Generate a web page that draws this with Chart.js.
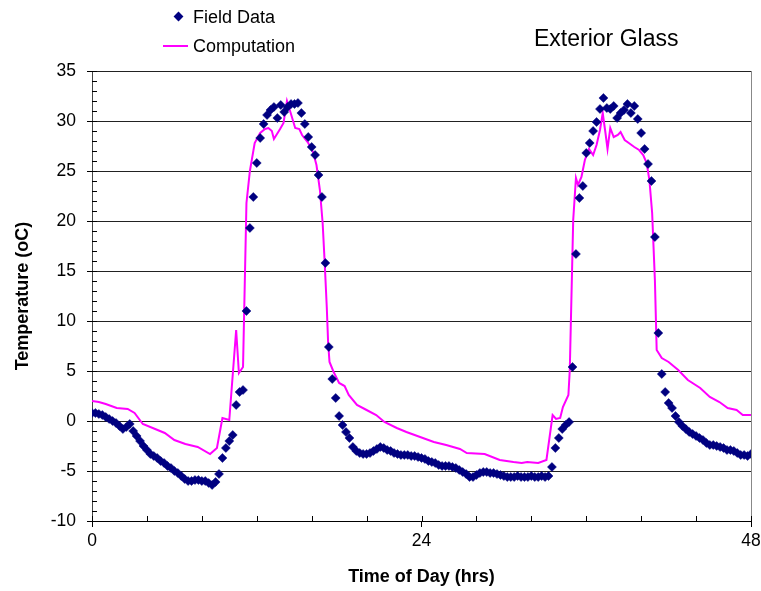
<!DOCTYPE html>
<html>
<head>
<meta charset="utf-8">
<script src="https://cdn.jsdelivr.net/npm/chart.js@4"></script>
<style>
  body { margin: 0; background: #fff; font-family: "Liberation Sans", Arial, sans-serif; }
  #wrap { position: relative; width: 761px; height: 591px; }
  .lbl { position: absolute; color: #000; white-space: nowrap; line-height: 1; }
  #legend div { position: absolute; }
</style>
</head>
<body>
<div id="wrap">
  <canvas id="my-chart" width="761" height="591"></canvas>
  <div id="legend">
    <div style="left:175px;top:13px;width:7px;height:7px;background:#000080;transform:rotate(45deg);"></div>
    <div class="lbl" style="left:193px;top:8px;font-size:18px;">Field Data</div>
    <div style="left:163px;top:45px;width:25px;height:2px;background:#ff00ff;"></div>
    <div class="lbl" style="left:193px;top:37px;font-size:18px;">Computation</div>
  </div>
  <div class="lbl" style="left:534px;top:27px;font-size:23px;">Exterior Glass</div>
</div>
<script>
// field data is logged every 15 minutes, starting at hour 0
const fieldStepHrs = 0.25;
const fieldTemp = [
  0.8, 0.8, 0.7, 0.6, 0.4, 0.2, 0.0, -0.2,
  -0.5, -0.8, -0.6, -0.3, -1.0, -1.5, -2.0, -2.5,
  -2.9, -3.3, -3.5, -3.7, -4.0, -4.2, -4.5, -4.7,
  -5.0, -5.2, -5.5, -5.8, -6.0, -6.0, -5.9, -5.9,
  -6.0, -6.0, -6.2, -6.4, -6.1, -5.3, -3.7, -2.7,
  -2.0, -1.4, 1.6, 2.9, 3.1, 11.0, 19.3, 22.4,
  25.8, 28.3, 29.7, 30.6, 31.1, 31.4, 30.3, 31.6,
  30.9, 31.4, 31.7, 31.7, 31.8, 30.8, 29.7, 28.4,
  27.4, 26.6, 24.6, 22.4, 15.8, 7.4, 4.2, 2.3,
  0.5, -0.4, -1.1, -1.7, -2.6, -3.0, -3.2, -3.3,
  -3.3, -3.2, -3.0, -2.8, -2.6, -2.7, -2.9, -3.0,
  -3.2, -3.3, -3.4, -3.4, -3.4, -3.5, -3.5, -3.6,
  -3.7, -3.8, -4.0, -4.1, -4.2, -4.4, -4.5, -4.5,
  -4.5, -4.6, -4.7, -4.9, -5.1, -5.3, -5.6, -5.6,
  -5.4, -5.2, -5.1, -5.1, -5.2, -5.2, -5.3, -5.4,
  -5.5, -5.6, -5.6, -5.6, -5.5, -5.6, -5.6, -5.6,
  -5.5, -5.6, -5.6, -5.5, -5.6, -5.5, -4.6, -2.7,
  -1.7, -0.8, -0.4, -0.1, 5.4, 16.7, 22.3, 23.5,
  26.8, 27.8, 29.0, 29.9, 31.2, 32.3, 31.3, 31.2,
  31.5, 30.3, 30.8, 31.1, 31.7, 30.8, 31.5, 30.2,
  28.8, 27.2, 25.7, 24.0, 18.4, 8.8, 4.7, 2.9,
  1.8, 1.3, 0.5, -0.1, -0.5, -0.8, -1.1, -1.3,
  -1.5, -1.7, -1.9, -2.2, -2.4, -2.4, -2.5, -2.6,
  -2.7, -2.9, -2.9, -3.0, -3.2, -3.4, -3.4, -3.5,
  -3.3
];

const compTime = [
  0, 0.5, 1.0, 1.8, 2.6, 3.1, 3.7, 4.6, 5.3, 6.0, 6.8, 7.7, 8.6, 9.1, 9.5, 10.0,
  10.5, 10.7, 11.0, 11.25, 11.5, 11.85, 12.25, 12.6, 12.85, 13.1, 13.25, 13.7, 13.95, 14.2, 14.45, 14.8,
  15.1, 15.3, 15.75, 16.1, 16.35, 16.6, 16.8, 16.95, 17.1, 17.2, 17.3, 17.6, 18.0, 18.4, 18.7, 19.3,
  20.0, 20.7, 21.3, 22.2, 22.9, 23.9, 24.9, 25.8, 26.8, 27.3, 28.6, 29.7, 30.7, 31.3, 31.7, 32.5,
  33.1, 33.55, 33.8, 34.1, 34.3, 34.7, 34.8, 34.95, 35.05, 35.25, 35.4, 35.65, 35.9, 36.2, 36.5, 36.75,
  37.0, 37.2, 37.4, 37.55, 37.75, 38.0, 38.3, 38.5, 38.8, 39.1, 39.5, 39.85, 40.15, 40.4, 40.6, 40.8,
  41.0, 41.13, 41.5, 42.0, 42.7, 43.4, 44.3, 45.0, 45.7, 46.3, 46.95, 47.4, 48.0
];
const compTemp = [
  2.0, 1.9, 1.7, 1.3, 1.2, 0.8, -0.3, -0.8, -1.2, -1.9, -2.3, -2.6, -3.3, -2.7, 0.3, 0.1,
  9.1, 4.8, 5.4, 21.8, 25.0, 27.8, 28.8, 29.2, 29.3, 29.0, 28.2, 29.2, 29.8, 32.0, 30.9, 29.3,
  29.2, 28.6, 27.8, 26.9, 25.6, 23.1, 19.8, 15.8, 11.4, 7.8, 5.9, 4.9, 3.8, 3.5, 2.6, 1.6,
  1.1, 0.6, -0.1, -0.7, -1.1, -1.6, -2.1, -2.4, -2.8, -3.2, -3.3, -3.9, -4.1, -4.2, -4.1, -4.2,
  -3.9, 0.6, 0.2, 0.3, 1.4, 2.6, 5.1, 14.1, 20.1, 24.3, 23.6, 24.4, 26.1, 27.2, 26.6, 27.6,
  29.1, 30.8, 28.8, 27.2, 29.3, 28.4, 28.6, 28.9, 28.1, 27.8, 27.4, 27.1, 26.6, 25.8, 24.1, 20.8,
  14.1, 7.1, 6.3, 5.9, 5.1, 4.1, 3.3, 2.4, 1.9, 1.3, 1.1, 0.6, 0.6
];

const xMajorTicks = [0, 24, 48];
const xMinorStep = 4;
const yMin = -10, yMax = 35, yStep = 5, yMinorStep = 1;

const fontFamily = '"Liberation Sans", Arial, sans-serif';
Chart.defaults.color = '#000';
Chart.defaults.font.family = fontFamily;

// small tick marks pointing into the plot, like the original
const innerTicks = {
  id: 'innerTicks',
  beforeDatasetsDraw(chart) {
    const { ctx, chartArea: a, scales: { x, y } } = chart;
    ctx.save();
    ctx.strokeStyle = '#000';
    ctx.lineWidth = 1;
    ctx.beginPath();
    for (let v = x.min; v <= x.max; v += xMinorStep) {
      const px = Math.round(x.getPixelForValue(v)) + 0.5;
      ctx.moveTo(px, a.bottom);
      ctx.lineTo(px, a.bottom - 5);
    }
    for (let v = y.min; v <= y.max; v += yMinorStep) {
      const py = Math.round(y.getPixelForValue(v)) + 0.5;
      ctx.moveTo(a.left, py);
      ctx.lineTo(a.left + 5, py);
    }
    ctx.stroke();
    ctx.restore();
  }
};

const ctx = document.querySelector('#my-chart').getContext('2d');
const chart = new Chart(ctx, {
  type: 'scatter',
  data: {
    datasets: [
      {
        label: 'Field Data',
        data: fieldTemp.map((t, i) => ({ x: i * fieldStepHrs, y: t })),
        pointStyle: 'rectRot',
        pointRadius: 4.5,
        backgroundColor: '#000080',
        borderColor: '#000080',
        borderWidth: 0.5,
        showLine: false
      },
      {
        label: 'Computation',
        data: compTime.map((h, i) => ({ x: h, y: compTemp[i] })),
        showLine: true,
        borderColor: '#ff00ff',
        backgroundColor: '#ff00ff',
        borderWidth: 2,
        pointRadius: 0,
        tension: 0
      }
    ]
  },
  options: {
    responsive: false,
    animation: false,
    layout: { padding: { top: 71, right: 10, left: 0, bottom: 0 } },
    plugins: {
      legend: { display: false },
      tooltip: { enabled: false }
    },
    scales: {
      x: {
        type: 'linear',
        min: 0,
        max: 48,
        afterFit: (s) => {
          s.height = 70;
          s.paddingLeft = 0;
          s.paddingRight = 0;
        },
        afterBuildTicks: (s) => {
          const ticks = [];
          for (let v = 0; v <= 48; v += xMinorStep) ticks.push({ value: v });
          s.ticks = ticks;
        },
        ticks: {
          autoSkip: false,
          maxRotation: 0,
          padding: 4,
          font: { size: 17.5 },
          callback: (v) => xMajorTicks.includes(v) ? String(v) : ''
        },
        grid: {
          drawOnChartArea: true,
          color: (c) => (c.tick && c.tick.value === 48) ? '#888' : 'rgba(0,0,0,0)',
          tickColor: (c) => (c.tick && xMajorTicks.includes(c.tick.value)) ? '#000' : 'rgba(0,0,0,0)',
          tickLength: 6
        },
        border: { color: '#000', width: 1 },
        title: {
          display: true,
          text: 'Time of Day (hrs)',
          font: { size: 18, weight: 'bold' },
          padding: { top: 0, bottom: 3 }
        }
      },
      y: {
        min: yMin,
        max: yMax,
        afterFit: (s) => { s.width = 92; },
        ticks: {
          stepSize: yStep,
          padding: 11,
          font: { size: 17.5 }
        },
        grid: {
          color: '#222',
          tickColor: '#000',
          tickLength: 5
        },
        border: { color: '#444', width: 1 },
        title: {
          display: true,
          text: 'Temperature (oC)',
          font: { size: 18, weight: 'bold' },
          padding: { top: 12, bottom: 0 }
        }
      }
    }
  },
  plugins: [innerTicks]
});
</script>
</body>
</html>
